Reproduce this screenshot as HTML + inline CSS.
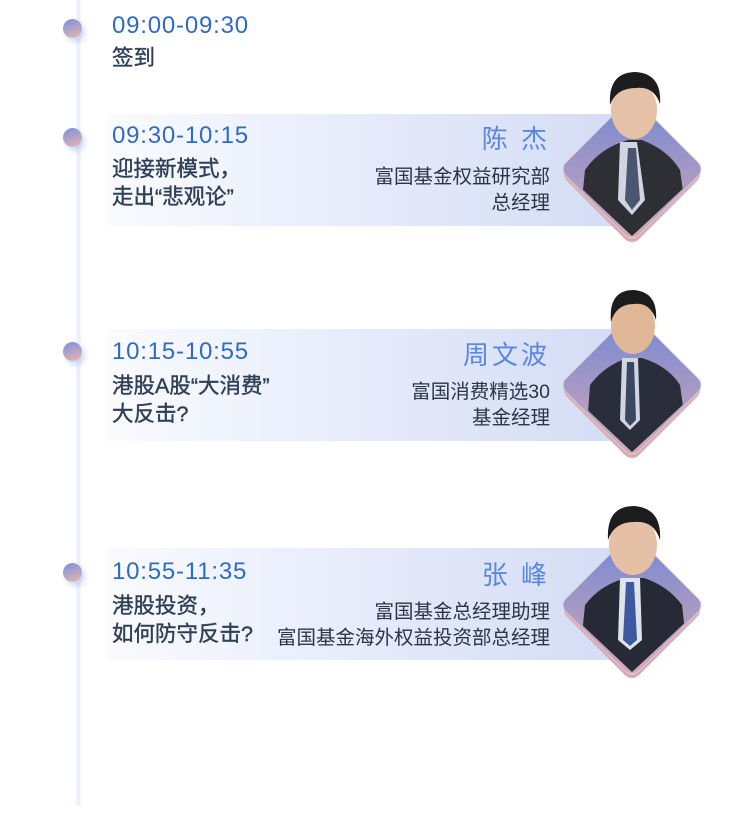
<!DOCTYPE html>
<html><head><meta charset="utf-8"><style>
body{margin:0;width:750px;height:813px;background:#fff;position:relative;overflow:hidden;font-family:"Liberation Sans","Noto Sans CJK SC",sans-serif}
.line{position:absolute;left:75px;top:0;width:7px;height:805px;background:linear-gradient(90deg,#fff,#e6ecfb,#fff)}
.dot{position:absolute;left:63px;width:19px;height:19px;border-radius:50%;background:linear-gradient(160deg,#7d8fe0,#e8b6ad);box-shadow:3px 4px 6px rgba(120,150,230,.35)}
.band{position:absolute;left:108px;width:520px;height:112px;background:linear-gradient(90deg,rgba(236,241,252,0.3),#e9eefb 40%,#d3dcf5)}
.t{position:absolute;left:112px;font-size:24px;color:#2f6bc4;letter-spacing:0.8px}
.h{position:absolute;left:112px;font-size:21.5px;color:#2f3f55;line-height:28px;-webkit-text-stroke:0.4px #2f3f55}
.nm{position:absolute;right:200px;font-size:26px;color:#5b87e0;letter-spacing:3px}
.sub{position:absolute;right:200px;font-size:19.5px;color:#2a3546;text-align:right;line-height:26px}
.dia{position:absolute;width:102px;height:102px;border-radius:10px;transform:rotate(45deg);background:linear-gradient(135deg,#e6b8b6,#d9a8ad)}
.dia2{position:absolute;width:102px;height:102px;border-radius:10px;transform:rotate(45deg);background:linear-gradient(135deg,#6f86d6,#d9aab2);border:1px solid rgba(255,255,255,.5)}
svg{position:absolute}
</style></head><body>
<div class="line"></div>
<div class="dot" style="top:19px"></div>
<div class="dot" style="top:128px"></div>
<div class="dot" style="top:342px"></div>
<div class="dot" style="top:563px"></div>

<div class="band" style="top:114px"></div>
<div class="band" style="top:329px"></div>
<div class="band" style="top:548px"></div>

<div class="t" style="top:12px">09:00-09:30</div>
<div class="h" style="top:44px">签到</div>

<div class="t" style="top:122px">09:30-10:15</div>
<div class="h" style="top:155px">迎接新模式，<br>走出“悲观论”</div>
<div class="nm" style="top:119px">陈 杰</div>
<div class="sub" style="top:164px">富国基金权益研究部<br>总经理</div>

<div class="t" style="top:338px">10:15-10:55</div>
<div class="h" style="top:372px">港股A股“大消费”<br>大反击?</div>
<div class="nm" style="top:335px">周文波</div>
<div class="sub" style="top:379px">富国消费精选30<br>基金经理</div>

<div class="t" style="top:558px">10:55-11:35</div>
<div class="h" style="top:592px">港股投资，<br>如何防守反击?</div>
<div class="nm" style="top:555px">张 峰</div>
<div class="sub" style="top:599px">富国基金总经理助理<br>富国基金海外权益投资部总经理</div>

<div class="dia" style="left:581px;top:123px"></div><div class="dia2" style="left:580px;top:117px"></div>
<div class="dia" style="left:581px;top:339px"></div><div class="dia2" style="left:580px;top:333px"></div>
<div class="dia" style="left:581px;top:559px"></div><div class="dia2" style="left:580px;top:553px"></div>

<svg width="750" height="813" style="left:0;top:0">
<defs>
<clipPath id="c1"><path d="M560 60 L705 60 L705 168 L632 236 L560 168 Z"/></clipPath>
<clipPath id="c2"><path d="M560 276 L705 276 L705 384 L632 452 L560 384 Z"/></clipPath>
<clipPath id="c3"><path d="M560 496 L705 496 L705 604 L632 672 L560 604 Z"/></clipPath>
</defs>
<g clip-path="url(#c1)">
<path d="M578 240 L585 170 Q600 148 628 140 L642 140 Q668 150 680 170 L690 240 Z" fill="#2e2f35"/>
<path d="M620 142 L637 142 L645 200 L632 215 L618 200 Z" fill="#cfd6e2"/>
<path d="M628 148 L636 148 L640 200 L632 210 L625 200 Z" fill="#4a5570"/>
<ellipse cx="634" cy="110" rx="23" ry="29" fill="#e5c1a8"/>
<path d="M610 105 Q608 72 636 72 Q662 74 660 104 Q654 86 636 88 Q616 88 610 105Z" fill="#1c1c1e"/>
</g>
<g clip-path="url(#c2)">
<path d="M585 455 L590 385 Q605 365 628 358 L642 358 Q668 366 680 385 L690 455 Z" fill="#2a2e3a"/>
<path d="M622 358 L638 358 L640 420 L630 430 L620 420 Z" fill="#cfd6e2"/>
<path d="M627 362 L634 362 L636 420 L630 426 L625 420 Z" fill="#3c4660"/>
<ellipse cx="633" cy="326" rx="22" ry="28" fill="#e0b898"/>
<path d="M611 322 Q608 290 634 290 Q658 292 656 320 Q650 302 634 304 Q616 304 611 322Z" fill="#1c1c1e"/>
</g>
<g clip-path="url(#c3)">
<path d="M578 675 L585 605 Q600 585 626 578 L644 578 Q668 586 682 605 L690 675 Z" fill="#272a36"/>
<path d="M620 578 L640 578 L642 640 L630 650 L618 640 Z" fill="#dfe3ea"/>
<path d="M626 582 L634 582 L637 640 L630 646 L623 640 Z" fill="#3d5aa0"/>
<ellipse cx="633" cy="545" rx="24" ry="30" fill="#e5c0a5"/>
<path d="M608 540 Q606 506 634 506 Q662 508 660 540 Q654 520 634 522 Q614 522 608 540Z" fill="#1c1c1e"/>
</g>
</svg>
</body></html>
